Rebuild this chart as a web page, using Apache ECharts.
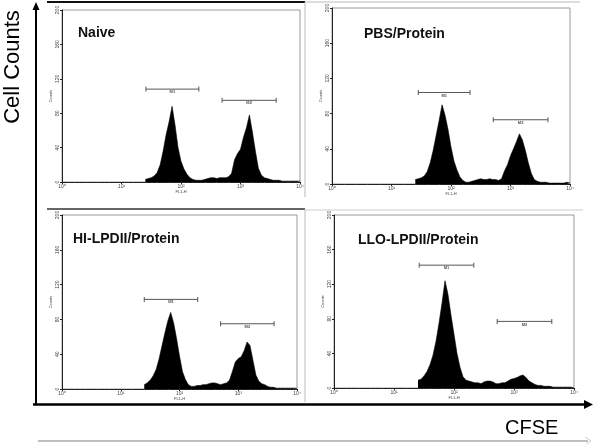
<!DOCTYPE html>
<html><head><meta charset="utf-8">
<script src="https://cdn.jsdelivr.net/npm/echarts@6/dist/echarts.min.js"></script>
<style>html,body{margin:0;padding:0;background:#fff}#c{width:600px;height:444px}</style>
</head><body><div id="c"></div>
<script>
// log10(FL1-H) channel positions
const logFL1 = [1.40,1.45,1.50,1.55,1.60,1.65,1.70,1.75,1.80,1.85,1.90,1.95,2.00,2.05,2.10,2.15,2.20,2.25,2.30,2.35,2.40,2.45,2.50,2.55,2.60,2.65,2.70,2.75,2.80,2.85,2.90,2.95,3.00,3.05,3.10,3.15,3.20,3.25,3.30,3.35,3.40,3.45,3.50,3.55,3.60,3.65,3.70,3.75,3.80,3.85,3.90,3.95,4.00];
const panelTitles = ["Naive","PBS/Protein","HI-LPDII/Protein","LLO-LPDII/Protein"];
const countsNaive = [3,4,5,7,11,20,36,55,70,88,66,40,24,15,9,5,3,2,2,2,3,4,5,5,4,5,5,5,6,10,26,33,38,52,63,78,58,36,16,8,5,4,3,2,2,2,1,1,1,1,1,1,1];
const countsPBS   = [5,6,7,9,14,24,38,55,72,90,78,62,42,26,16,8,4,2,2,3,4,5,6,5,5,6,5,5,4,6,15,22,32,40,48,57,50,38,24,12,5,3,2,2,2,1,1,1,1,1,1,2,1];
const countsHI    = [5,7,10,15,22,34,49,64,78,88,76,58,38,20,11,5,3,3,4,4,5,5,6,7,7,6,5,6,7,10,20,31,35,37,44,54,50,33,16,9,6,5,3,2,2,1,1,1,1,1,1,1,1];
const countsLLO   = [9,10,14,19,27,38,54,75,98,124,108,84,62,40,24,13,9,8,7,6,6,5,7,8,8,7,5,5,6,6,8,10,11,12,14,15,12,8,6,4,3,3,2,2,2,1,1,1,1,1,1,1,0];
// markers: [log low, log high, count level]
const markersM1 = [[1.41,2.30,108],[1.45,2.32,104],[1.40,2.31,103],[1.42,2.33,142]];
const markersM2 = [[2.69,3.60,95],[2.71,3.63,73],[2.70,3.61,75],[2.72,3.63,77]];
const xTickLabels = ["10\u2070","10\u00b9","10\u00b2","10\u00b3","10\u2074"];
const yTicks = [0,40,80,120,160,200];

const allCounts = [countsNaive,countsPBS,countsHI,countsLLO];
const grids = [
  {left:62, top:10, width:238, height:172},
  {left:332, top:8, width:238, height:176},
  {left:62, top:215, width:235, height:174},
  {left:334, top:215, width:240, height:173}
];
const titlePos = [[78,33],[364,34],[73,239],[358,240]];

const xAxes=[], yAxes=[], series=[];
grids.forEach((g,i)=>{
  g.show=true; g.borderColor='#9a9a9a'; g.borderWidth=1; g.backgroundColor='#fff';
  xAxes.push({gridIndex:i,type:'value',min:0,max:4,interval:1,
    name:'FL1-H',nameLocation:'middle',nameGap:7,nameTextStyle:{fontSize:4,color:'#444'},
    axisLine:{show:true,onZero:false,lineStyle:{color:'#222',width:1}},
    axisTick:{show:true,length:2,lineStyle:{color:'#222'}},
    minorTick:{show:true,splitNumber:5,length:1,lineStyle:{color:'#444'}},
    splitLine:{show:false},
    axisLabel:{fontSize:5,color:'#444',margin:2,formatter:v=>xTickLabels[Math.round(v)]}});
  yAxes.push({gridIndex:i,type:'value',min:yTicks[0],max:yTicks[yTicks.length-1],interval:40,
    name:'Counts',nameLocation:'middle',nameGap:9,nameTextStyle:{fontSize:4,color:'#444'},
    axisLine:{show:true,lineStyle:{color:'#222',width:1}},
    axisTick:{show:true,length:2,lineStyle:{color:'#222'}},
    splitLine:{show:false},
    axisLabel:{fontSize:5,color:'#444',margin:2,rotate:90}});
  series.push({type:'line',xAxisIndex:i,yAxisIndex:i,symbol:'none',
    data:logFL1.map((x,k)=>[x,allCounts[i][k]]),
    lineStyle:{color:'#000',width:0.6},areaStyle:{color:'#000',opacity:1},z:2});
  [[markersM1[i],'M1'],[markersM2[i],'M2']].forEach(([m,lab])=>{
    series.push({type:'line',xAxisIndex:i,yAxisIndex:i,symbol:'rect',symbolSize:[1,5],
      data:[[m[0],m[2]],[m[1],m[2]]],lineStyle:{color:'#555',width:1},itemStyle:{color:'#555'},z:3});
    series.push({type:'scatter',xAxisIndex:i,yAxisIndex:i,symbolSize:0,
      data:[[(m[0]+m[1])/2,m[2]]],
      label:{show:true,position:'bottom',distance:1,formatter:lab,fontSize:4,fontWeight:'bold',color:'#222'},z:3});
  });
});

const graphics = [
  // panel frames
  {type:'line',shape:{x1:47,y1:2,x2:305,y2:2},style:{stroke:'#111',lineWidth:2}},
  {type:'line',shape:{x1:305,y1:2,x2:580,y2:2},style:{stroke:'#bbb',lineWidth:1}},
  {type:'line',shape:{x1:305,y1:2,x2:305,y2:197},style:{stroke:'#bbb',lineWidth:1}},
  {type:'line',shape:{x1:47,y1:209,x2:305,y2:209},style:{stroke:'#333',lineWidth:1.5}},
  {type:'line',shape:{x1:305,y1:210,x2:583,y2:210},style:{stroke:'#ccc',lineWidth:1}},
  {type:'line',shape:{x1:305,y1:209,x2:305,y2:402},style:{stroke:'#bbb',lineWidth:1}},
  // main arrows
  {type:'line',shape:{x1:36,y1:405,x2:36,y2:8},style:{stroke:'#000',lineWidth:2}},
  {type:'polygon',shape:{points:[[32.5,10],[39.5,10],[36,2]]},style:{fill:'#000'}},
  {type:'line',shape:{x1:33,y1:404.5,x2:586,y2:404.5},style:{stroke:'#000',lineWidth:2.5}},
  {type:'polygon',shape:{points:[[584,400],[584,409],[593,404.5]]},style:{fill:'#000'}},
  {type:'line',shape:{x1:38,y1:441,x2:588,y2:441},style:{stroke:'#aaa',lineWidth:1.5}},
  {type:'polyline',shape:{points:[[585,437],[591,441],[585,445]]},style:{stroke:'#ccc',lineWidth:1,fill:null}},
  // axis titles
  {type:'text',x:13,y:67,rotation:Math.PI/2,style:{text:'Cell Counts',font:'22px "Liberation Sans", Arial, sans-serif',fill:'#000',align:'center',verticalAlign:'middle'}},
  {type:'text',x:505,y:428,style:{text:'CFSE',font:'20px "Liberation Sans", Arial, sans-serif',fill:'#000',align:'left',verticalAlign:'middle'}}
];
panelTitles.forEach((t,i)=>{
  graphics.push({type:'text',x:titlePos[i][0],y:titlePos[i][1],z:10,
    style:{text:t,font:'bold 14px "Liberation Sans", Arial, sans-serif',fill:'#111',align:'left',verticalAlign:'middle'}});
});

const chart = echarts.init(document.getElementById('c'));
chart.setOption({animation:false,backgroundColor:'#fff',grid:grids,xAxis:xAxes,yAxis:yAxes,series:series,graphic:graphics});
</script></body></html>
